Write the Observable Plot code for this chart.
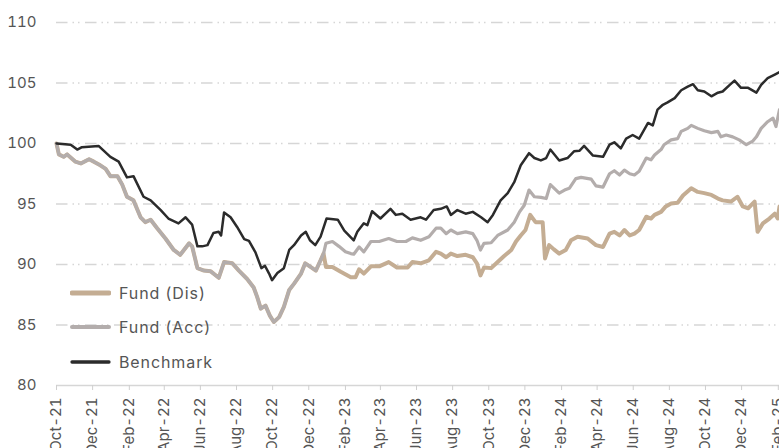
<!DOCTYPE html>
<html>
<head>
<meta charset="utf-8">
<script src="https://cdn.jsdelivr.net/npm/d3@7"></script>
<script src="https://cdn.jsdelivr.net/npm/@observablehq/plot@0.6"></script>
<style>
  html, body { margin: 0; padding: 0; background: #fff; }
  #wrap { position: relative; width: 779px; height: 448px; overflow: hidden; font-family: Inter, "Noto Sans", sans-serif; }
  .legend { position: absolute; left: 70px; top: 0; }
  .item { position: absolute; left: 0; display: flex; align-items: center; white-space: nowrap; font-size: 16px; letter-spacing: 0.9px; color: #555; height: 20px; }
  .item svg { margin-right: 8px; }
</style>
</head>
<body>
<div id="wrap"></div>
<script>
// ---- Data ----
const seriesNames = ["Fund (Dis)", "Fund (Acc)", "Benchmark"];

const accDates = ["2021-10-01","2021-10-05","2021-10-13","2021-10-19","2021-11-02","2021-11-11","2021-11-25","2021-12-03","2021-12-14","2021-12-23","2021-12-31","2022-01-12","2022-01-20","2022-01-28","2022-02-08","2022-02-20","2022-02-28","2022-03-09","2022-03-20","2022-04-03","2022-04-17","2022-04-28","2022-05-13","2022-05-18","2022-05-27","2022-06-07","2022-06-18","2022-07-02","2022-07-11","2022-07-25","2022-08-05","2022-08-19","2022-08-30","2022-09-05","2022-09-11","2022-09-19","2022-09-26","2022-10-03","2022-10-12","2022-10-20","2022-10-29","2022-11-06","2022-11-18","2022-11-25","2022-12-04","2022-12-13","2022-12-21","2022-12-26","2022-12-30","2023-01-10","2023-01-21","2023-02-01","2023-02-10","2023-02-15","2023-02-24","2023-03-04","2023-03-16","2023-03-30","2023-04-15","2023-04-29","2023-05-14","2023-05-25","2023-06-08","2023-06-22","2023-07-04","2023-07-12","2023-07-21","2023-07-29","2023-08-09","2023-08-23","2023-09-04","2023-09-11","2023-09-17","2023-09-23","2023-10-05","2023-10-16","2023-11-02","2023-11-13","2023-11-22","2023-11-30","2023-12-08","2023-12-17","2023-12-28","2024-01-06","2024-01-13","2024-01-28","2024-02-06","2024-02-14","2024-02-25","2024-03-05","2024-03-22","2024-03-30","2024-04-11","2024-04-22","2024-04-30","2024-05-09","2024-05-17","2024-05-26","2024-06-03","2024-06-11","2024-06-23","2024-07-01","2024-07-07","2024-07-18","2024-07-23","2024-08-04","2024-08-15","2024-08-21","2024-09-01","2024-09-07","2024-09-18","2024-09-29","2024-10-11","2024-10-22","2024-10-27","2024-11-05","2024-11-16","2024-11-27","2024-12-09","2024-12-20","2024-12-26","2025-01-03","2025-01-14","2025-01-23","2025-01-28","2025-02-03"];
const accValues = [100.0,99.1,98.9,99.1,98.5,98.35,98.7,98.5,98.2,97.9,97.3,97.3,96.6,95.6,95.3,93.9,93.5,93.7,93.0,92.15,91.2,90.8,91.75,91.5,89.7,89.5,89.45,88.9,90.2,90.1,89.5,88.8,88.1,87.3,86.35,86.6,85.8,85.25,85.65,86.5,87.9,88.4,89.25,90.1,89.8,89.5,90.35,90.9,91.75,91.9,91.5,91.05,90.9,90.85,91.45,91.05,91.9,91.9,92.15,91.9,91.9,92.2,92.0,92.3,93.0,93.0,92.55,92.85,92.55,92.7,92.55,92.0,91.2,91.75,91.8,92.4,92.85,93.5,94.35,94.9,96.15,95.6,95.55,95.45,96.6,95.9,96.15,96.3,97.1,97.2,97.05,96.5,96.4,97.5,97.75,97.4,97.8,97.5,97.4,97.7,98.8,98.65,99.05,99.5,99.9,100.3,100.4,101.0,101.25,101.5,101.25,101.05,100.9,101.0,100.55,100.7,100.55,100.3,99.9,100.2,100.55,101.25,101.8,102.1,101.4,102.8];

const disDates = ["2021-10-01","2021-10-05","2021-10-13","2021-10-19","2021-11-02","2021-11-11","2021-11-25","2021-12-03","2021-12-14","2021-12-23","2021-12-31","2022-01-12","2022-01-20","2022-01-28","2022-02-08","2022-02-20","2022-02-28","2022-03-09","2022-03-20","2022-04-03","2022-04-17","2022-04-28","2022-05-13","2022-05-18","2022-05-27","2022-06-07","2022-06-18","2022-07-02","2022-07-11","2022-07-25","2022-08-05","2022-08-19","2022-08-30","2022-09-05","2022-09-11","2022-09-19","2022-09-26","2022-10-03","2022-10-12","2022-10-20","2022-10-29","2022-11-06","2022-11-18","2022-11-25","2022-12-04","2022-12-13","2022-12-21","2022-12-26","2022-12-30","2023-01-10","2023-01-24","2023-02-10","2023-02-18","2023-02-24","2023-03-04","2023-03-16","2023-03-30","2023-04-15","2023-04-29","2023-05-17","2023-05-25","2023-06-08","2023-06-22","2023-07-04","2023-07-12","2023-07-21","2023-07-29","2023-08-09","2023-08-23","2023-09-04","2023-09-11","2023-09-17","2023-09-23","2023-10-05","2023-10-16","2023-10-27","2023-11-08","2023-11-16","2023-11-24","2023-12-02","2023-12-10","2023-12-19","2023-12-31","2024-01-04","2024-01-11","2024-01-19","2024-01-28","2024-02-08","2024-02-17","2024-02-28","2024-03-16","2024-03-30","2024-04-11","2024-04-22","2024-04-30","2024-05-09","2024-05-17","2024-05-26","2024-06-03","2024-06-11","2024-06-23","2024-07-01","2024-07-07","2024-07-18","2024-07-26","2024-08-04","2024-08-15","2024-08-24","2024-09-07","2024-09-18","2024-09-29","2024-10-11","2024-10-22","2024-10-30","2024-11-13","2024-11-24","2024-12-03","2024-12-12","2024-12-23","2024-12-28","2025-01-06","2025-01-17","2025-01-26","2025-01-31","2025-02-03"];
const disValues = [100.0,99.1,98.9,99.1,98.5,98.35,98.7,98.5,98.2,97.9,97.3,97.3,96.6,95.6,95.3,93.9,93.5,93.7,93.0,92.15,91.2,90.8,91.75,91.5,89.7,89.5,89.45,88.9,90.2,90.1,89.5,88.8,88.1,87.3,86.35,86.6,85.8,85.25,85.65,86.5,87.9,88.4,89.25,90.1,89.8,89.5,90.35,90.9,89.8,89.8,89.4,88.95,88.95,89.6,89.25,89.85,89.85,90.2,89.75,89.75,90.2,90.1,90.35,91.05,90.9,90.6,90.9,90.7,90.8,90.6,90.1,89.1,89.75,89.7,90.2,90.7,91.2,91.9,92.4,92.85,94.1,93.5,93.5,90.5,91.6,91.25,90.9,91.2,92.0,92.3,92.15,91.6,91.45,92.55,92.7,92.4,92.85,92.4,92.55,92.85,93.95,93.8,94.1,94.35,94.8,95.05,95.1,95.7,96.3,96.0,95.9,95.75,95.45,95.3,95.2,95.6,94.8,94.65,95.2,92.7,93.4,93.8,94.2,93.8,94.8];

const benchDates = ["2021-10-01","2021-10-25","2021-11-05","2021-11-13","2021-12-11","2021-12-31","2022-01-14","2022-01-28","2022-02-08","2022-02-25","2022-03-09","2022-03-26","2022-04-08","2022-04-25","2022-05-07","2022-05-18","2022-05-27","2022-06-04","2022-06-13","2022-06-23","2022-07-02","2022-07-06","2022-07-11","2022-07-22","2022-08-02","2022-08-14","2022-08-22","2022-09-02","2022-09-12","2022-09-18","2022-09-25","2022-09-30","2022-10-09","2022-10-20","2022-10-29","2022-11-06","2022-11-18","2022-11-26","2022-12-03","2022-12-12","2022-12-21","2022-12-31","2023-01-19","2023-01-30","2023-02-15","2023-02-21","2023-03-04","2023-03-10","2023-03-18","2023-04-01","2023-04-18","2023-04-27","2023-05-08","2023-05-22","2023-06-08","2023-06-17","2023-06-30","2023-07-12","2023-07-22","2023-07-29","2023-08-09","2023-08-23","2023-09-04","2023-09-18","2023-09-29","2023-10-08","2023-10-21","2023-11-02","2023-11-13","2023-11-24","2023-12-08","2023-12-17","2023-12-28","2024-01-06","2024-01-13","2024-01-28","2024-02-11","2024-02-22","2024-03-02","2024-03-10","2024-03-25","2024-04-11","2024-04-22","2024-04-30","2024-05-11","2024-05-20","2024-05-31","2024-06-11","2024-06-26","2024-07-04","2024-07-12","2024-07-21","2024-07-29","2024-08-10","2024-08-21","2024-09-01","2024-09-10","2024-09-18","2024-09-29","2024-10-11","2024-10-22","2024-10-30","2024-11-11","2024-11-19","2024-11-30","2024-12-12","2024-12-26","2025-01-03","2025-01-14","2025-01-26","2025-02-03"];
const benchValues = [100.0,99.9,99.5,99.7,99.8,98.9,98.5,97.2,97.3,95.6,95.3,94.5,93.8,93.4,93.9,93.3,91.5,91.5,91.6,92.6,92.7,92.4,94.3,93.9,93.1,92.1,91.95,91.0,89.7,89.9,89.25,88.7,89.3,89.7,91.2,91.6,92.4,92.7,92.0,91.6,92.3,93.8,93.7,92.8,92.0,92.7,93.4,93.25,94.4,93.8,94.6,94.1,94.2,93.7,93.9,93.7,94.5,94.6,94.8,94.1,94.5,94.2,94.35,93.9,93.5,94.1,95.3,95.9,96.8,98.2,99.2,98.8,98.6,98.8,99.5,98.6,98.8,99.35,99.4,99.8,99.0,98.9,99.9,100.1,99.6,100.4,100.7,100.4,101.7,101.5,102.8,103.2,103.4,103.75,104.4,104.7,104.9,104.4,104.3,103.9,104.2,104.3,104.85,105.2,104.6,104.6,104.2,104.85,105.4,105.7,105.9];

const yTicks = [80, 85, 90, 95, 100, 105, 110];
const xTickDates = ["2021-10-01","2021-12-01","2022-02-01","2022-04-01","2022-06-01","2022-08-01","2022-10-01","2022-12-01","2023-02-01","2023-04-01","2023-06-01","2023-08-01","2023-10-01","2023-12-01","2024-02-01","2024-04-01","2024-06-01","2024-08-01","2024-10-01","2024-12-01","2025-02-01"];

// ---- Build table ----
const parse = d3.utcParse("%Y-%m-%d");
const rows = [];
[[seriesNames[0], disDates, disValues], [seriesNames[1], accDates, accValues], [seriesNames[2], benchDates, benchValues]]
  .forEach(([name, ds, vs]) => ds.forEach((d, i) => rows.push({series: name, date: parse(d), value: vs[i]})));

const colors = {"Fund (Dis)": "#c4ad93", "Fund (Acc)": "#b3adac", "Benchmark": "#2b2b2b"};
const widths = {"Fund (Dis)": 4, "Fund (Acc)": 3.2, "Benchmark": 2.5};

const allDates = rows.map(r => r.date);
const chart = Plot.plot({
  width: 779,
  height: 448,
  marginLeft: 56,
  marginRight: 0,
  marginTop: 22,
  marginBottom: 63,
  style: {fontFamily: "Inter, 'Noto Sans', sans-serif", fontSize: "15px", color: "#555", background: "#fff", overflow: "visible"},
  x: {type: "utc", domain: d3.extent(allDates), label: null},
  y: {domain: [80, 110], label: null},
  marks: [
    Plot.ruleY(yTicks.filter(t => t > 80), {stroke: "#d6d6d6", strokeWidth: 1.3, strokeDasharray: "11.5,5,1.5,4,1.5,5.5"}),
    Plot.ruleY([80], {stroke: "#d6d6d6", strokeWidth: 1.5}),
    Plot.axisY({ticks: yTicks, tickSize: 0, tickPadding: 20, tickFormat: d => String(d), fill: "#555", label: null}),
    Plot.axisX({ticks: xTickDates.map(parse), tickFormat: d3.utcFormat("%b-%y"), tickRotate: -90, tickSize: 5, tickPadding: 7, stroke: "#cfcfcf", fill: "#555", label: null}),
    ...seriesNames.map(name => Plot.line(rows.filter(r => r.series === name), {
      x: "date", y: "value", stroke: colors[name], strokeWidth: widths[name], strokeLinejoin: "round", strokeLinecap: "round"
    }))
  ]
});
const wrap = document.getElementById("wrap");
wrap.appendChild(chart);

// ---- Legend (HTML overlay) ----
const legend = document.createElement("div");
legend.className = "legend";
const legendTops = [283, 317, 352];
seriesNames.forEach((name, i) => {
  const item = document.createElement("div");
  item.className = "item";
  item.style.top = legendTops[i] + "px";
  item.innerHTML = `<svg width="41" height="10"><line x1="2" y1="5" x2="39" y2="5" stroke="${colors[name]}" stroke-width="${widths[name] + 0.8}" stroke-linecap="round"/></svg><span>${name}</span>`;
  legend.appendChild(item);
});
wrap.appendChild(legend);
</script>
</body>
</html>
